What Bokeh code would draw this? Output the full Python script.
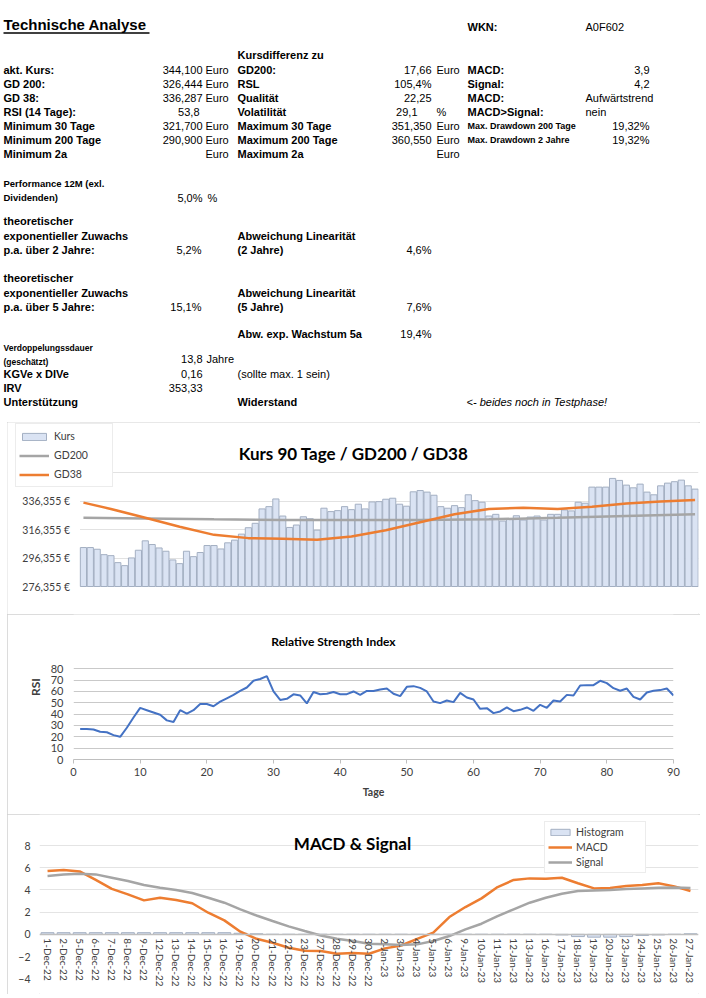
import math
from bokeh.plotting import figure
from bokeh.models import (Range1d, FixedTicker, CustomJSTickFormatter, Legend,
                          LegendItem, Label, BoxAnnotation, Plot)
from bokeh.layouts import column
from bokeh.embed import file_html
from bokeh.resources import INLINE
from bokeh.core.properties import value

# ------------------------------------------------------------------ data
kurs_days = list(range(1, 91))
kurs = [303.7, 303.7, 302.5, 298.7, 298.0, 293.1, 291.0, 296.4, 301.8, 308.4,
        305.8, 303.4, 301.1, 295.0, 292.4, 301.1, 297.3, 300.2, 305.1, 305.1,
        302.7, 307.0, 308.9, 313.1, 317.6, 320.7, 330.8, 332.4, 337.8, 325.8,
        317.8, 319.5, 325.3, 323.9, 315.9, 331.3, 328.9, 329.6, 332.4, 330.3,
        334.1, 330.8, 335.7, 335.9, 337.6, 338.3, 334.1, 332.7, 342.8, 343.7,
        342.6, 340.4, 332.4, 331.3, 333.1, 331.7, 340.7, 336.6, 335.5, 325.8,
        327.0, 322.3, 323.9, 326.0, 323.0, 325.1, 325.8, 323.0, 327.0, 327.0,
        330.1, 329.4, 335.5, 334.8, 346.1, 346.1, 346.1, 352.2, 350.8, 347.5,
        345.6, 348.2, 342.6, 340.7, 347.0, 348.9, 349.9, 351.0, 347.0, 344.7]
gd200_days = [1, 10, 20, 30, 40, 50, 60, 70, 80, 90]
gd200 = [324.6, 324.1, 323.5, 323.1, 323.0, 323.1, 323.5, 324.6, 325.8, 327.0]
gd38_days = [1, 5, 10, 15, 20, 25, 30, 35, 40, 45, 50, 55, 60, 65, 70, 75, 80, 85, 90]
gd38 = [335.2, 330.8, 324.6, 318.3, 312.6, 310.3, 309.8, 309.1, 311.5, 315.8,
        321.5, 327.0, 330.8, 331.6, 330.8, 332.4, 334.6, 336.0, 337.0]
kurs_ticks = [276.355, 296.355, 316.355, 336.355, 356.355]

rsi_days = list(range(1, 91))
rsi = [26.8, 27.0, 26.5, 24.5, 24.0, 21.5, 20.0, 28.0, 37.0, 45.5,
       43.5, 41.5, 39.5, 34.5, 33.0, 43.5, 40.5, 43.5, 49.0, 49.0,
       47.0, 51.0, 54.0, 57.0, 60.5, 63.5, 69.5, 71.0, 73.5, 60.0,
       52.5, 53.5, 57.5, 56.5, 49.5, 59.5, 57.5, 58.0, 59.5, 57.6,
       57.6, 60.0, 57.0, 60.5, 60.5, 61.8, 62.6, 58.0, 55.9, 64.1,
       64.7, 63.2, 60.0, 51.2, 49.7, 52.0, 50.6, 58.8, 54.7, 52.9,
       44.7, 45.3, 40.9, 42.4, 45.9, 42.6, 43.8, 45.9, 42.9, 48.2,
       45.6, 52.0, 51.2, 57.0, 56.5, 65.3, 65.6, 65.6, 69.4, 67.4,
       62.9, 60.6, 62.6, 55.3, 52.9, 59.1, 60.6, 61.2, 62.6, 56.5]
rsi_xticks = [0, 10, 20, 30, 40, 50, 60, 70, 80, 90]
rsi_yticks = [0, 10, 20, 30, 40, 50, 60, 70, 80]

macd_dates = ["1-Dec-22", "2-Dec-22", "5-Dec-22", "6-Dec-22", "7-Dec-22", "8-Dec-22",
              "9-Dec-22", "12-Dec-22", "13-Dec-22", "14-Dec-22", "15-Dec-22", "16-Dec-22",
              "19-Dec-22", "20-Dec-22", "21-Dec-22", "22-Dec-22", "23-Dec-22", "27-Dec-22",
              "28-Dec-22", "29-Dec-22", "30-Dec-22", "2-Jan-23", "3-Jan-23", "4-Jan-23",
              "5-Jan-23", "6-Jan-23", "9-Jan-23", "10-Jan-23", "11-Jan-23", "12-Jan-23",
              "13-Jan-23", "16-Jan-23", "17-Jan-23", "18-Jan-23", "19-Jan-23", "20-Jan-23",
              "23-Jan-23", "24-Jan-23", "25-Jan-23", "26-Jan-23", "27-Jan-23"]
macd = [5.7, 5.8, 5.67, 4.9, 4.1, 3.6, 3.06, 3.3, 3.1, 2.8, 1.95, 1.26, 0.24, -0.4,
        -0.75, -1.2, -1.47, -1.5, -1.74, -1.68, -1.74, -1.26, -1.0, -0.4, 0.15, 1.56,
        2.46, 3.24, 4.26, 4.9, 5.04, 5.0, 5.1, 4.6, 4.14, 4.17, 4.35, 4.44, 4.6, 4.32, 3.9]
signal = [5.25, 5.4, 5.46, 5.4, 5.1, 4.8, 4.44, 4.2, 4.0, 3.72, 3.3, 2.85, 2.25, 1.7,
          1.2, 0.72, 0.3, -0.1, -0.4, -0.6, -0.84, -0.9, -0.96, -0.9, -0.6, -0.15,
          0.45, 0.96, 1.65, 2.25, 2.85, 3.3, 3.66, 3.9, 3.96, 4.0, 4.08, 4.14, 4.2, 4.23, 4.17]
histogram = [0.15, 0.15, 0.15, 0.15, 0.15, 0.15, 0.15, 0.15, 0.15, 0.15, 0.15, 0.15,
             0.1, 0.05, 0.0, 0.0, 0.0, 0.0, 0.0, 0.0, 0.0, 0.0, 0.0, 0.0, 0.0, 0.0,
             0.0, 0.0, 0.0, 0.0, 0.0, 0.0, -0.05, -0.2, -0.25, -0.25, -0.2, -0.1,
             -0.05, 0.0, 0.05]
macd_yticks = [-4, -2, 0, 2, 4, 6, 8]
macd_grid = [0, 2, 4, 6, 8]

# table contents
left_labels = ["akt. Kurs:", "GD 200:", "GD 38:", "RSI (14 Tage):", "Minimum 30 Tage",
               "Minimum 200 Tage", "Minimum 2a"]
left_values = ["344,100", "326,444", "336,287", "53,8", "321,700", "290,900", ""]
left_units = ["Euro", "Euro", "Euro", "", "Euro", "Euro", "Euro"]
mid_labels = ["GD200:", "RSL", "Qualität", "Volatilität", "Maximum 30 Tage",
              "Maximum 200 Tage", "Maximum 2a"]
mid_values = ["17,66", "105,4%", "22,25", "29,1", "351,350", "360,550", ""]
mid_units = ["Euro", "", "", "%", "Euro", "Euro", "Euro"]
right_labels = ["MACD:", "Signal:", "MACD:", "MACD>Signal:", "Max. Drawdown 200 Tage",
                "Max. Drawdown 2 Jahre", ""]
right_values = ["3,9", "4,2", "Aufwärtstrend", "nein", "19,32%", "19,32%", ""]

# ------------------------------------------------------------------ styling
CHART_FONT = "Lato"
TABLE_FONT = "Liberation Sans"
FRAME_STYLE = {"outline": "1px solid #d0d0d0", "outline-offset": "-1px"}
ORANGE = "#ed7d31"
GRAY = "#a5a5a5"
BAR_FILL = "#dae3f3"
BAR_LINE = "#a3afc2"
LABEL_COLOR = "#404040"
FA = {"frame_align": False} if "frame_align" in Plot.properties() else {}
COMMON = dict(output_backend="svg", toolbar_location=None, **FA)
CH_L, CH_R = 7, 700          # chart boxes, page px

# ------------------------------------------------------------------ table
TAB_W, TAB_H = 700, 422
tp = figure(width=TAB_W, height=TAB_H, x_range=Range1d(0, TAB_W),
            y_range=Range1d(TAB_H, 0), min_border=0, **COMMON)
tp.axis.visible = False
tp.grid.visible = False
tp.outline_line_color = None

groups = {}


def put(x, y, s, align="left", style="bold", size=11):
    g = groups.setdefault((align, style, size), {"x": [], "y": [], "t": []})
    g["x"].append(x)
    g["y"].append(y)
    g["t"].append(s)


LX = 3
put(LX, 24, "Technische Analyse", size=15)
put(467, 26, "WKN:")
put(585, 26, "A0F602", style="normal")
put(237, 54, "Kursdifferenz zu")
row_y = [69, 83, 97, 111, 125, 139, 153]
for i, y in enumerate(row_y):
    put(LX, y, left_labels[i])
    if left_values[i]:
        put(199 if left_values[i] == "53,8" else 202, y, left_values[i], "right", "normal")
    if left_units[i]:
        put(205, y, left_units[i], "left", "normal")
    put(237, y, mid_labels[i])
    if mid_values[i]:
        put(417 if mid_values[i] == "29,1" else 431, y, mid_values[i], "right", "normal")
    if mid_units[i]:
        put(436, y, mid_units[i], "left", "normal")
    if right_labels[i]:
        put(467, y, right_labels[i], size=9 if right_labels[i].startswith("Max.") else 11)
    if right_values[i]:
        if right_values[i][0].isalpha():
            put(585, y, right_values[i], "left", "normal")
        else:
            put(649, y, right_values[i], "right", "normal")

put(LX, 183, "Performance 12M (exl.", size=9.5)
put(LX, 197, "Dividenden)", size=9.5)
put(202, 197, "5,0%", "right", "normal")
put(207, 197, "%", "left", "normal")
for (y0, yrs, v1, v2) in [(220, "2", "5,2%", "4,6%"), (277, "5", "15,1%", "7,6%")]:
    put(LX, y0, "theoretischer")
    put(LX, y0 + 15, "exponentieller Zuwachs")
    put(LX, y0 + 29, "p.a. über %s Jahre:" % yrs)
    put(201, y0 + 29, v1, "right", "normal")
    put(237, y0 + 15, "Abweichung Linearität")
    put(237, y0 + 29, "(%s Jahre)" % yrs)
    put(431, y0 + 29, v2, "right", "normal")
put(237, 333, "Abw. exp. Wachstum 5a")
put(431, 333, "19,4%", "right", "normal")
put(LX, 347, "Verdoppelungssdauer", size=8.5)
put(LX, 361, "(geschätzt)", size=8.5)
put(202, 358, "13,8", "right", "normal")
put(206, 358, "Jahre", "left", "normal")
put(LX, 373, "KGVe x DIVe")
put(202, 373, "0,16", "right", "normal")
put(237, 373, "(sollte max. 1 sein)", "left", "normal")
put(LX, 387, "IRV")
put(202, 387, "353,33", "right", "normal")
put(LX, 401, "Unterstützung")
put(237, 401, "Widerstand")
put(466, 401, "<- beides noch in Testphase!", "left", "italic")

for (align, style, size), g in groups.items():
    tp.text(x=g["x"], y=g["y"], text=g["t"], text_align=align, text_baseline="middle",
            text_font=value(TABLE_FONT), text_font_style=style,
            text_font_size="%spx" % size, text_color="black")
tp.segment(x0=[LX], y0=[32.5], x1=[LX + 146], y1=[32.5], line_color="black", line_width=1.3)

# ------------------------------------------------------------------ Kurs chart
K_TOP, K_BOT = 422, 614            # figure, page px
K_PL, K_PR = 79.5, 698.0           # plot area (bars), page px
K_PB, K_PT = 586.0, 472.0          # y of lowest / highest tick, page px
k_pxu = (K_PB - K_PT) / (kurs_ticks[-1] - kurs_ticks[0])
k_pxd = (K_PR - K_PL) / 90.0
kp = figure(width=CH_R - CH_L, height=K_BOT - K_TOP,
            x_range=Range1d(0.5 - (K_PL - CH_L) / k_pxd, 90.5),
            y_range=Range1d(kurs_ticks[0] - (K_BOT - K_PB) / k_pxu,
                            kurs_ticks[0] + (K_PB - K_TOP) / k_pxu),
            min_border_left=0, min_border_right=int(CH_R - K_PR), min_border_top=0,
            min_border_bottom=0, margin=(0, 0, 0, CH_L), styles=FRAME_STYLE, **COMMON)
kp.outline_line_color = None
kp.xaxis.visible = False
kp.xgrid.visible = False
kp.yaxis.fixed_location = 0.5
kp.yaxis.ticker = FixedTicker(ticks=kurs_ticks)
kp.ygrid.ticker = FixedTicker(ticks=kurs_ticks)
kp.ygrid.grid_line_color = "#e2e2e2"
kp.add_layout(BoxAnnotation(right=0.5, fill_color="white", fill_alpha=1.0,
                            line_color=None, level="underlay"))
kp.yaxis.formatter = CustomJSTickFormatter(code="return tick.toFixed(3).replace('.', ',') + ' \u20ac';")
kp.yaxis.axis_line_color = None
kp.yaxis.major_tick_line_color = None
kp.yaxis.minor_tick_line_color = None
kp.yaxis.major_tick_out = 0
kp.yaxis.major_tick_in = 0
kp.yaxis.major_label_standoff = 10
kp.yaxis.major_label_text_font = CHART_FONT
kp.yaxis.major_label_text_font_size = "10.5px"
kp.yaxis.major_label_text_color = LABEL_COLOR

r_bar = kp.vbar(x=kurs_days, top=kurs, bottom=kurs_ticks[0], width=0.9,
                fill_color=BAR_FILL, line_color=BAR_LINE, line_width=1)
r_200 = kp.line(gd200_days, gd200, line_color=GRAY, line_width=2.5)
r_38 = kp.line(gd38_days, gd38, line_color=ORANGE, line_width=2.5)

kleg = Legend(items=[LegendItem(label="Kurs", renderers=[r_bar]),
                     LegendItem(label="GD200", renderers=[r_200]),
                     LegendItem(label="GD38", renderers=[r_38])],
              location=(15 - CH_L, K_BOT - 487), margin=0, padding=3, spacing=1,
              label_height=18, label_width=55, glyph_height=9, glyph_width=30,
              label_standoff=5, border_line_color="#d9d9d9", background_fill_alpha=1.0,
              label_text_font=CHART_FONT, label_text_font_size="10.5px",
              label_text_color=LABEL_COLOR)
kp.add_layout(kleg)
kp.add_layout(Label(x=353 - CH_L, y=K_BOT - 452.7, x_units="screen", y_units="screen",
                    text="Kurs 90 Tage / GD200 / GD38", text_align="center",
                    text_baseline="alphabetic", text_font=CHART_FONT,
                    text_font_style="bold", text_font_size="17px", text_color="black"))

# ------------------------------------------------------------------ RSI chart
R_TOP, R_BOT = 614, 814
R_PL, R_PR, R_PT, R_PB = 73.0, 673.0, 668.3, 759.0
r_pxu = (R_PB - R_PT) / 80.0
rp = figure(width=CH_R - CH_L, height=R_BOT - R_TOP, x_range=Range1d(0, 90),
            y_range=Range1d(0, 80 + (R_PT - R_TOP) / r_pxu),
            min_border_left=int(R_PL - CH_L), min_border_right=int(CH_R - R_PR),
            min_border_top=0, min_border_bottom=int(R_BOT - R_PB),
            margin=(0, 0, 0, CH_L), styles=FRAME_STYLE, **COMMON)
rp.outline_line_color = None
rp.xgrid.visible = False
rp.xaxis.ticker = FixedTicker(ticks=rsi_xticks)
rp.yaxis.ticker = FixedTicker(ticks=rsi_yticks)
rp.ygrid.ticker = FixedTicker(ticks=rsi_yticks)
rp.ygrid.grid_line_color = "#c9c9c9"
rp.yaxis.axis_line_color = None
rp.yaxis.major_tick_line_color = None
rp.yaxis.minor_tick_line_color = None
rp.yaxis.major_tick_out = 0
rp.yaxis.major_tick_in = 0
rp.xaxis.minor_tick_line_color = None
rp.xaxis.axis_line_color = "#bfbfbf"
rp.xaxis.major_tick_line_color = "#bfbfbf"
rp.xaxis.major_tick_out = 4
rp.xaxis.major_tick_in = 0
rp.yaxis.major_label_standoff = 10
rp.xaxis.major_label_standoff = 4
for ax in (rp.xaxis, rp.yaxis):
    ax.major_label_text_font = CHART_FONT
    ax.major_label_text_font_size = "11px"
    ax.major_label_text_color = LABEL_COLOR
    ax.axis_label_text_font = CHART_FONT
    ax.axis_label_text_font_style = "bold"
    ax.axis_label_text_color = LABEL_COLOR
rp.yaxis.axis_label = "RSI"
rp.yaxis.axis_label_text_font_size = "12px"
rp.yaxis.axis_label_standoff = 5
rp.xaxis.axis_label = "Tage"
rp.xaxis.axis_label_text_font_size = "10.5px"
rp.xaxis.axis_label_standoff = 7
rp.line(rsi_days, rsi, line_color="#4472c4", line_width=2)
rp.add_layout(Label(x=333 - R_PL, y=R_PB - 640.5, x_units="screen", y_units="screen",
                    text="Relative Strength Index", text_align="center",
                    text_baseline="alphabetic", text_font=CHART_FONT,
                    text_font_style="bold", text_font_size="12px", text_color="black"))

# ------------------------------------------------------------------ MACD chart
M_TOP, M_BOT = 814, 994
M_PL, M_PR, M_PT, M_PB = 39.0, 698.0, 845.0, 978.3
m_pxu = (M_PB - M_PT) / 12.0
mp = figure(width=CH_R - CH_L, height=M_BOT - M_TOP, x_range=macd_dates,
            y_range=Range1d(-4 - (M_BOT - M_PB) / m_pxu, 8 + (M_PT - M_TOP) / m_pxu),
            min_border_left=int(M_PL - CH_L), min_border_right=int(CH_R - M_PR),
            min_border_top=0, min_border_bottom=0, margin=(0, 0, 0, CH_L),
            styles=FRAME_STYLE, **COMMON)
mp.outline_line_color = None
mp.xgrid.visible = False
mp.yaxis.ticker = FixedTicker(ticks=macd_yticks)
mp.ygrid.ticker = FixedTicker(ticks=macd_grid)
mp.ygrid.grid_line_color = "#e4e4e4"
mp.yaxis.axis_line_color = None
mp.yaxis.major_tick_line_color = None
mp.yaxis.minor_tick_line_color = None
mp.yaxis.major_tick_out = 0
mp.yaxis.major_tick_in = 0
mp.yaxis.major_label_standoff = 9
mp.xaxis.fixed_location = 0
mp.xaxis.major_label_orientation = -math.pi / 2
mp.xaxis.axis_line_color = "#bfbfbf"
mp.xaxis.axis_line_width = 1.5
mp.xaxis.major_tick_line_color = None
mp.xaxis.major_tick_out = 0
mp.xaxis.major_tick_in = 0
mp.xaxis.major_label_standoff = 4
mp.xaxis.major_label_text_font_size = "10px"
mp.yaxis.major_label_text_font_size = "10.5px"
for ax in (mp.xaxis, mp.yaxis):
    ax.major_label_text_font = CHART_FONT
    ax.major_label_text_color = LABEL_COLOR

r_hist = mp.vbar(x=macd_dates, top=histogram, bottom=0, width=0.8,
                 fill_color=BAR_FILL, line_color=BAR_LINE, line_width=1)
r_macd = mp.line(macd_dates, macd, line_color=ORANGE, line_width=2.5)
r_sig = mp.line(macd_dates, signal, line_color=GRAY, line_width=2.5)
mleg = Legend(items=[LegendItem(label="Histogram", renderers=[r_hist]),
                     LegendItem(label="MACD", renderers=[r_macd]),
                     LegendItem(label="Signal", renderers=[r_sig])],
              location=(544 - M_PL, M_BOT - 873), margin=0, padding=3, spacing=1,
              label_height=14, label_width=66, glyph_height=8, glyph_width=24,
              label_standoff=4, border_line_color="#d9d9d9", background_fill_alpha=1.0,
              label_text_font=CHART_FONT, label_text_font_size="10.5px",
              label_text_color=LABEL_COLOR)
mp.add_layout(mleg)
mp.add_layout(Label(x=352 - M_PL, y=M_BOT - 842.7, x_units="screen", y_units="screen",
                    text="MACD & Signal", text_align="center",
                    text_baseline="alphabetic", text_font=CHART_FONT,
                    text_font_style="bold", text_font_size="17px", text_color="black"))

layout = column(tp, kp, rp, mp, spacing=0)
open("out.html", "w").write(file_html(layout, INLINE))
